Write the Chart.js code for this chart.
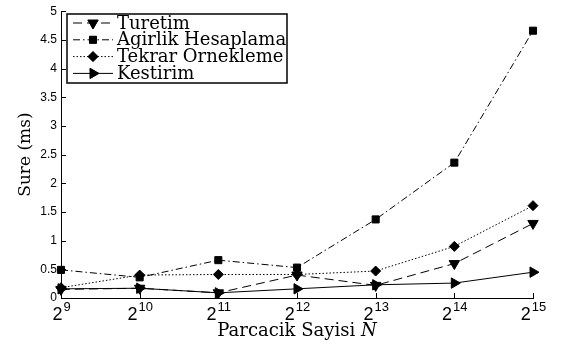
<!DOCTYPE html>
<html>
<head>
<meta charset="utf-8">
<script src="https://cdn.jsdelivr.net/npm/chart.js@4.4.1/dist/chart.umd.min.js"></script>
<style>
  html, body { margin: 0; padding: 0; background: #fff; }
  #wrap { width: 561px; height: 345px; }
</style>
</head>
<body>
<div id="wrap"><canvas id="grafico"></canvas></div>
<script>
// exponents of N (2^9 .. 2^15)
const expoentes = [9, 10, 11, 12, 13, 14, 15];
const turetim = [0.15, 0.17, 0.09, 0.40, 0.22, 0.60, 1.30];
const agirlik = [0.49, 0.36, 0.66, 0.53, 1.37, 2.36, 4.66];
const tekrar = [0.18, 0.40, 0.41, 0.41, 0.47, 0.90, 1.61];
const kestirim = [0.16, 0.17, 0.09, 0.16, 0.23, 0.26, 0.45];
const nomes = ["Turetim", "Agirlik Hesaplama", "Tekrar Ornekleme", "Kestirim"];

const serif = "'DejaVu Serif', 'Liberation Serif', serif";
const sans = "'Liberation Sans', Arial, sans-serif";

function serie(label, data, dash, style, rot, raio) {
  return {
    label: label,
    data: data,
    borderColor: "#000",
    backgroundColor: "#000",
    borderWidth: 1,
    borderDash: dash,
    pointStyle: style,
    pointRotation: rot,
    pointRadius: raio,
    pointBorderWidth: 1,
    tension: 0,
    clip: false,
  };
}

// ticks pointing inward + x labels as 2^n + x title + legend box
const extras = {
  id: "extras",
  afterDraw(chart) {
    const ctx = chart.ctx;
    const xs = chart.scales.x;
    const ys = chart.scales.y;
    const area = chart.chartArea;
    ctx.save();
    ctx.strokeStyle = "#000";
    ctx.lineWidth = 1;
    ys.ticks.forEach((t, i) => {
      const y = Math.round(ys.getPixelForTick(i)) + 0.5;
      ctx.beginPath();
      ctx.moveTo(area.left, y);
      ctx.lineTo(area.left + 5, y);
      ctx.stroke();
    });
    xs.ticks.forEach((t, i) => {
      const x = Math.round(xs.getPixelForTick(i)) + 0.5;
      ctx.beginPath();
      ctx.moveTo(x, area.bottom);
      ctx.lineTo(x, area.bottom - 5);
      ctx.stroke();
    });

    // 2^n labels
    ctx.fillStyle = "#000";
    ctx.textBaseline = "alphabetic";
    ctx.textAlign = "left";
    expoentes.forEach((e, i) => {
      const x = xs.getPixelForTick(i);
      ctx.font = "18px " + sans;
      const wb = ctx.measureText("2").width;
      ctx.font = "13px " + sans;
      const we = ctx.measureText(String(e)).width;
      const x0 = x - (wb + we) / 2;
      ctx.font = "18px " + sans;
      ctx.fillText("2", x0, area.bottom + 22);
      ctx.font = "13px " + sans;
      ctx.fillText(String(e), x0 + wb + 1, area.bottom + 13);
    });

    // x axis title with italic N
    ctx.font = "18px " + serif;
    const t1 = "Parcacik Sayisi ";
    const w1 = ctx.measureText(t1).width;
    ctx.font = "italic 18px " + serif;
    const w2 = ctx.measureText("N").width;
    const cx = (area.left + area.right) / 2;
    ctx.font = "18px " + serif;
    ctx.fillText(t1, cx - (w1 + w2) / 2, 336);
    ctx.font = "italic 18px " + serif;
    ctx.fillText("N", cx - (w1 + w2) / 2 + w1, 336);

    // legend
    const bx = 67, by = 14, bw = 220, bh = 69;
    ctx.lineWidth = 1.5;
    ctx.strokeRect(bx, by, bw, bh);
    chart.data.datasets.forEach((ds, i) => {
      const y = by + 9 + i * 16.8;
      ctx.lineWidth = 1;
      ctx.setLineDash(ds.borderDash || []);
      ctx.beginPath();
      ctx.moveTo(bx + 6, y);
      ctx.lineTo(bx + 46, y);
      ctx.stroke();
      ctx.setLineDash([]);
      Chart.helpers.drawPoint(ctx, {
        pointStyle: ds.pointStyle,
        rotation: ds.pointRotation,
        radius: ds.pointRadius,
        borderWidth: 1,
      }, bx + 26, y);
      ctx.fill();
      ctx.font = "18px " + serif;
      ctx.textBaseline = "middle";
      ctx.fillText(ds.label, bx + 50, y + 1);
    });
    ctx.restore();
  },
};

new Chart(document.getElementById("grafico"), {
  type: "line",
  data: {
    labels: expoentes,
    datasets: [
      serie(nomes[0], turetim, [9, 5], "triangle", 180, 6),
      serie(nomes[1], agirlik, [7, 3, 1.5, 3], "rect", 0, 5),
      serie(nomes[2], tekrar, [1.5, 2], "rectRot", 0, 5),
      serie(nomes[3], kestirim, [], "triangle", 90, 6),
    ],
  },
  options: {
    responsive: true,
    maintainAspectRatio: false,
    animation: false,
    layout: { padding: { top: 10, right: 28, left: 0, bottom: 0 } },
    plugins: {
      legend: { display: false },
      tooltip: { enabled: false },
    },
    scales: {
      x: {
        offset: false,
        grid: { display: false, drawTicks: false },
        border: { display: true, color: "#000", width: 1 },
        ticks: { display: false },
        afterFit(scale) { scale.height = 47; },
      },
      y: {
        min: 0,
        max: 5,
        grid: { display: false, drawTicks: false },
        border: { display: true, color: "#000", width: 1 },
        ticks: {
          stepSize: 0.5,
          color: "#000",
          padding: 4,
          font: { family: sans, size: 12 },
          callback: (v) => String(v),
        },
        title: {
          display: true,
          text: "Sure (ms)",
          color: "#000",
          font: { family: serif, size: 17 },
          padding: { top: 15, bottom: 0 },
        },
        afterFit(scale) { scale.width = 61; },
      },
    },
  },
  plugins: [extras],
});
</script>
</body>
</html>
